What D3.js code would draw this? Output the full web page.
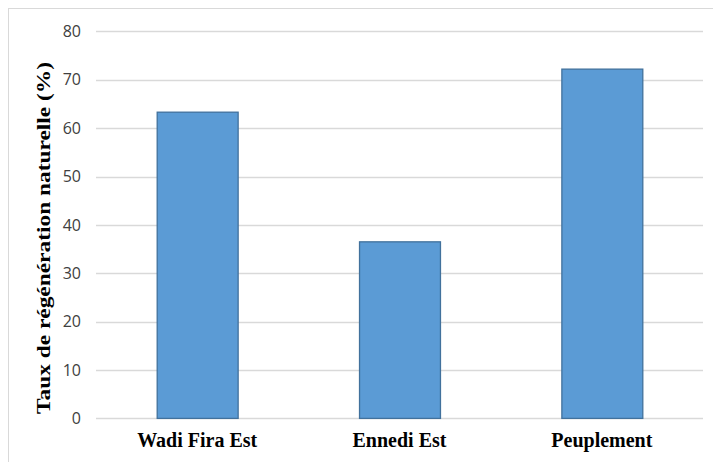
<!DOCTYPE html>
<html><head><meta charset="utf-8">
<script src="https://cdn.jsdelivr.net/npm/d3@7"></script>
<style>body{margin:0;background:#fff}svg{display:block}</style>
</head><body>
<script>
const categories = ["Wadi Fira Est", "Ennedi Est", "Peuplement"];
const values = [63.3, 36.5, 72.2];
const yTicks = [0, 10, 20, 30, 40, 50, 60, 70, 80];
const yTitle = "Taux de régénération naturelle (%)";

const W = 713, H = 462;
const svg = d3.select("body").append("svg").attr("width", W).attr("height", H);
svg.append("rect").attr("x", 8.5).attr("y", 8.5).attr("width", 720).attr("height", 470)
  .attr("fill", "#fff").attr("stroke", "#d9d9d9").attr("stroke-width", 1);

const m = {left: 96, right: 703, top: 31.4, bottom: 418.4};
const x = d3.scaleBand().domain(categories).range([m.left, m.right]).paddingInner(0.6).paddingOuter(0.3);
const y = d3.scaleLinear().domain([0, 80]).range([m.bottom, m.top]);

svg.append("g").selectAll("line").data(yTicks).join("line")
  .attr("x1", m.left).attr("x2", m.right)
  .attr("y1", d => Math.round(y(d)) + 0.5).attr("y2", d => Math.round(y(d)) + 0.5)
  .attr("stroke", "#d9d9d9").attr("stroke-width", 1.3);

const yAxis = svg.append("g").attr("transform", `translate(${m.left},0)`)
  .call(d3.axisLeft(y).tickValues(yTicks).tickSize(0).tickPadding(15));
yAxis.select(".domain").remove();
yAxis.selectAll("text").attr("font-family", "'Open Sans', sans-serif").attr("font-size", 16).attr("fill", "#404040");

svg.append("g").selectAll("rect").data(values).join("rect")
  .attr("x", (d, i) => x(categories[i]) + 0.5)
  .attr("width", x.bandwidth())
  .attr("y", d => y(d))
  .attr("height", d => y(0) - y(d))
  .attr("fill", "#5b9bd5").attr("stroke", "#41719c").attr("stroke-width", 1.3);

const xAxis = svg.append("g").attr("transform", `translate(0,${m.bottom})`)
  .call(d3.axisBottom(x).tickSize(0).tickPadding(14));
xAxis.select(".domain").remove();
xAxis.selectAll("text").attr("font-family", "'Liberation Serif', 'Times New Roman', serif")
  .attr("font-weight", "bold").attr("font-size", 20).attr("fill", "#000")
  .attr("dy", "0.71em");

svg.append("text").attr("transform", "translate(50,238) rotate(-90)")
  .attr("text-anchor", "middle")
  .attr("font-family", "'Liberation Serif', 'Times New Roman', serif")
  .attr("font-weight", "bold").attr("font-size", 18).attr("fill", "#000")
  .attr("textLength", 352).attr("lengthAdjust", "spacingAndGlyphs")
  .text(yTitle);
</script>
</body></html>
